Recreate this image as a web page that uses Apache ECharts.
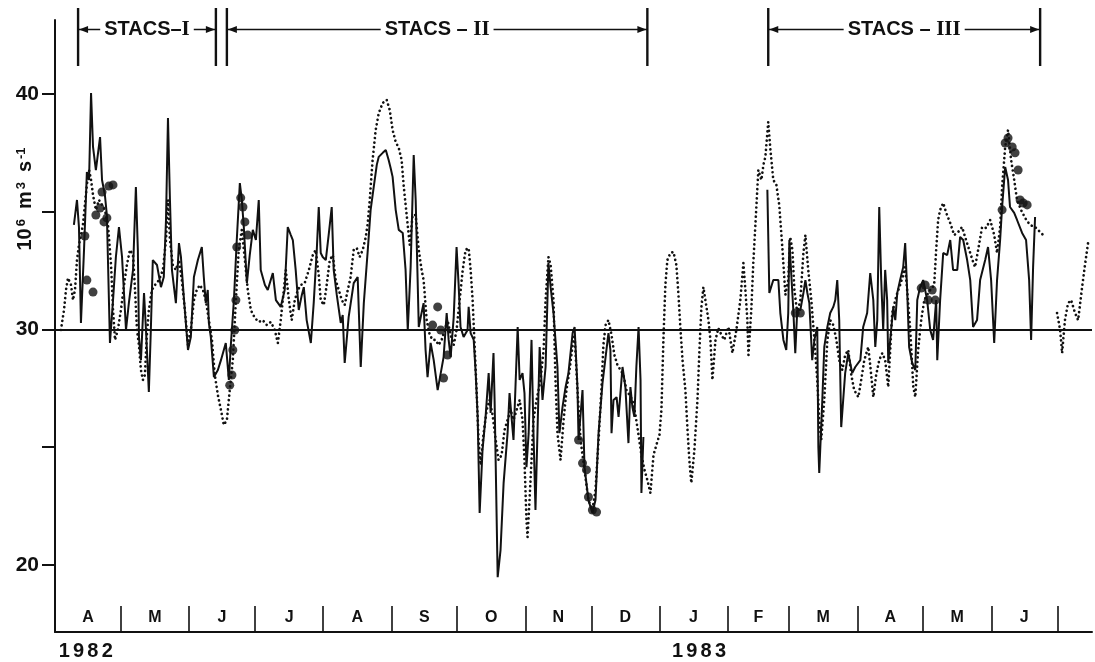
<!DOCTYPE html>
<html><head><meta charset="utf-8">
<script src="https://cdn.jsdelivr.net/npm/echarts@6/dist/echarts.min.js"></script>
<style>html,body{margin:0;padding:0;background:#fff}#c{width:1095px;height:662px}</style>
</head><body><div id="c"></div>
<script>
// x: days since 1 April 1982 ; y: transport in 10^6 m^3 s^-1
const monthStarts = [0,30,61,91,122,153,183,214,244,275,306,334,365,395,426,456];
const monthLetters = ['A','M','J','J','A','S','O','N','D','J','F','M','A','M','J'];
const yearLabels = ['1982','1983'];
const yearCentres = [14, 293];
const yTicks = [20,25,30,35,40];
const yLabels = [20,30,40];
const referenceLevel = 30;
const stacsPrefix = ['STACS–','STACS – ','STACS – '];
const stacsNumeral = ['I','II','III'];
const stacsStart = [10.5, 78.2, 324.5];
const stacsEnd = [73.2, 269.5, 448.2];

const solid1982 = [[8.6,34.43],[10.0,35.49],[10.9,34.34],[11.8,30.27],[13.2,33.36],[14.5,36.68],[15.5,36.34],[16.4,40.03],[17.3,37.74],[18.6,36.76],[20.5,38.16],[21.4,36.34],[22.7,35.70],[23.6,34.85],[25.0,29.42],[26.4,31.24],[27.7,33.07],[29.1,34.34],[30.5,33.07],[32.3,29.97],[33.6,31.11],[35.5,32.52],[36.8,36.04],[37.7,33.36],[38.2,29.67],[39.1,28.69],[40.5,31.54],[41.4,29.97],[42.7,27.34],[43.6,29.97],[44.5,32.94],[46.4,32.73],[48.2,31.79],[49.5,32.22],[50.5,34.64],[51.4,38.97],[52.3,35.49],[53.2,32.52],[55.0,31.11],[56.4,33.66],[57.3,33.07],[58.6,31.37],[60.5,29.12],[61.8,29.67],[63.2,32.22],[65.0,32.94],[66.8,33.49],[67.7,32.22],[68.6,31.11],[69.5,31.67],[70.0,30.27],[70.9,29.67],[72.3,27.97],[74.1,28.27],[75.5,28.69],[77.7,29.42],[79.1,27.85],[80.0,29.33],[81.4,31.24],[82.7,33.79],[84.1,36.21],[85.0,35.49],[85.9,34.34],[87.3,31.96],[88.6,33.15],[90.0,34.22],[91.4,33.79],[92.7,35.49],[93.6,32.52],[95.5,31.88],[96.8,31.67],[99.1,32.39],[100.5,31.24],[102.7,30.95],[104.5,31.67],[105.9,34.34],[107.3,34.00],[108.2,33.79],[109.5,32.52],[110.9,30.82],[112.3,31.46],[113.2,31.79],[114.5,30.39],[116.4,29.42],[117.7,31.11],[119.1,33.36],[120.0,35.19],[120.9,33.24],[121.8,33.07],[123.2,32.94],[124.5,34.00],[125.9,35.19],[126.8,32.52],[128.2,31.46],[130.0,30.27],[130.9,30.61],[131.8,28.57],[133.6,30.52],[135.9,31.96],[137.7,32.22],[139.1,28.40],[140.5,31.11],[142.3,33.36],[143.6,35.07],[145.0,36.04],[146.4,36.98],[147.3,37.32],[149.1,37.49],[150.5,37.61],[151.8,37.19],[152.7,36.85],[153.6,36.47],[155.0,35.07],[156.4,34.22],[158.2,34.09],[159.5,32.52],[160.5,29.97],[161.8,32.64],[163.2,37.40],[164.1,35.49],[165.5,30.10],[166.4,30.52],[167.7,31.11],[168.6,29.12],[169.5,27.97],[170.9,29.42],[172.3,28.69],[174.1,27.42],[175.5,28.14],[176.8,28.82],[178.2,30.69],[179.1,29.55],[180.0,28.82],[181.4,30.52],[182.7,33.49],[183.6,31.96],[184.5,30.10],[185.9,29.67],[187.7,29.97],[188.2,30.95],[189.1,29.84],[190.5,29.55],[191.4,28.14],[192.3,26.28],[193.2,22.20],[194.5,24.87],[195.9,26.28],[197.3,28.14],[198.2,26.45],[199.5,28.99],[200.0,27.00],[201.4,19.48],[202.7,20.63],[204.1,23.47],[205.9,25.59],[206.8,27.29],[207.7,26.28],[208.6,25.30],[209.5,27.55],[210.5,30.10],[211.4,27.85],[212.7,28.14],[213.6,27.29],[214.5,24.15],[215.5,25.59],[216.8,29.55],[217.7,25.59],[218.6,22.33],[219.5,25.59],[220.5,29.25],[221.8,27.00],[223.2,28.40],[224.5,32.81],[225.5,31.79],[226.8,30.69],[228.6,28.40],[229.5,25.59],[230.9,26.70],[232.3,27.55],[233.6,28.14],[235.5,29.84],[236.4,30.10],[237.7,27.55],[238.2,25.30],[240.0,27.42],[240.9,24.15],[242.7,22.75],[244.5,22.20],[245.9,22.75],[247.3,25.59],[249.1,27.72],[250.5,28.82],[251.8,29.84],[252.7,29.12],[253.2,25.59],[254.1,27.00],[255.5,27.12],[256.4,26.28],[258.2,28.40],[259.5,27.55],[260.9,25.17],[261.8,27.55],[262.7,26.70],[263.6,26.28],[264.5,28.40],[265.5,30.10],[266.4,27.85],[266.8,23.05],[267.7,25.43]];

const solid1983 = [[324.1,35.92],[325.0,31.54],[326.8,32.09],[329.1,32.09],[330.0,30.69],[331.4,29.55],[332.7,29.12],[333.6,30.69],[334.1,33.79],[335.0,33.79],[335.9,30.82],[336.8,28.99],[337.7,30.82],[339.1,30.82],[340.5,31.54],[341.4,32.09],[342.3,31.54],[343.2,31.11],[344.5,28.69],[345.5,29.55],[346.8,30.10],[347.3,25.00],[347.7,23.90],[349.1,27.00],[350.0,29.25],[351.4,30.10],[352.7,30.69],[354.1,30.95],[355.0,31.24],[355.9,32.09],[356.8,30.39],[357.7,25.85],[358.6,27.00],[359.5,28.14],[360.9,28.99],[362.7,28.14],[364.1,28.40],[366.4,28.69],[367.7,30.10],[369.5,30.69],[370.9,32.39],[372.3,31.24],[373.2,29.25],[374.1,30.39],[375.0,35.19],[375.9,32.09],[376.8,29.97],[377.7,32.52],[378.6,31.24],[379.1,28.57],[380.0,29.55],[381.4,30.95],[382.3,30.39],[383.2,31.54],[384.5,32.09],[385.9,32.64],[386.8,33.66],[387.7,31.67],[388.6,29.25],[390.0,28.57],[391.4,28.27],[392.3,31.24],[393.6,31.79],[395.0,32.09],[396.8,31.24],[398.2,29.97],[399.5,29.55],[400.9,31.24],[401.4,28.69],[402.7,31.24],[404.1,33.24],[405.9,33.15],[407.3,33.79],[408.6,32.52],[410.5,32.52],[411.8,33.92],[413.2,33.79],[415.0,32.94],[416.4,32.09],[417.7,30.10],[419.5,30.39],[420.9,32.09],[423.2,32.94],[424.5,33.49],[425.9,32.09],[427.3,29.42],[428.6,32.09],[430.0,33.79],[430.9,35.19],[432.3,36.89],[433.6,36.34],[434.5,35.19],[436.4,34.94],[437.7,34.64],[440.0,34.09],[441.8,33.79],[443.2,32.09],[444.1,29.55],[445.0,32.64],[445.9,34.77]];

const dottedMain = [[2.7,29.97],[4.1,30.82],[5.0,31.67],[5.9,32.18],[7.3,31.88],[8.2,31.24],[9.1,31.67],[10.0,32.94],[10.9,33.58],[11.8,34.00],[12.7,34.43],[13.6,35.28],[14.5,36.13],[15.5,36.76],[16.4,36.34],[17.3,35.70],[18.6,35.07],[20.0,35.49],[21.4,35.28],[22.7,35.07],[24.1,34.43],[25.5,32.73],[26.4,30.82],[27.3,29.55],[28.6,29.97],[30.0,30.82],[31.4,31.88],[32.7,32.73],[34.1,33.37],[35.5,33.15],[36.4,31.67],[37.3,29.97],[38.2,29.33],[39.1,28.27],[40.0,27.85],[40.9,28.06],[41.8,29.76],[42.7,30.82],[44.1,31.67],[45.5,31.88],[47.3,32.09],[49.1,32.52],[50.5,33.79],[51.4,35.49],[52.3,33.79],[53.6,32.73],[55.0,32.52],[56.4,32.94],[57.7,32.09],[59.1,30.82],[60.5,29.33],[61.8,29.97],[63.2,31.24],[64.5,31.67],[65.9,31.88],[67.3,31.67],[68.6,31.24],[70.0,30.39],[71.4,29.55],[72.7,28.06],[74.1,27.21],[75.5,26.57],[76.8,25.94],[78.2,26.15],[79.5,27.42],[80.9,28.69],[82.3,31.24],[83.6,33.37],[85.0,34.22],[86.4,32.94],[87.7,31.67],[89.1,30.82],[90.9,30.48],[92.7,30.31],[94.5,30.39],[96.4,30.18],[98.2,30.31],[100.0,29.97],[101.4,29.42],[102.7,30.39],[104.1,31.67],[105.0,32.52],[106.4,31.24],[107.7,30.39],[109.1,31.24],[110.5,31.67],[111.8,31.88],[113.6,31.96],[115.5,32.52],[117.3,33.15],[118.6,33.37],[120.0,32.30],[120.9,31.24],[122.3,31.03],[123.6,31.88],[125.0,32.94],[126.4,33.15],[127.7,32.09],[129.1,31.67],[130.5,31.24],[131.8,31.03],[133.2,31.67],[134.5,32.22],[135.9,33.37],[137.3,33.45],[138.6,33.07],[140.0,33.37],[141.4,33.92],[142.3,34.51],[143.2,35.49],[144.5,37.19],[145.9,38.46],[147.3,39.18],[149.1,39.61],[150.9,39.74],[152.3,39.31],[153.6,38.46],[155.0,37.95],[156.4,37.70],[157.7,37.19],[158.6,36.13],[160.0,34.85],[161.4,33.58],[162.7,34.85],[164.1,34.85],[165.5,33.37],[166.8,32.52],[167.7,32.09],[169.1,30.39],[170.5,29.76],[171.8,29.55],[173.2,29.55],[174.5,29.33],[175.9,29.55],[177.3,29.97],[178.6,30.39],[180.0,29.76],[181.4,29.33],[182.7,29.97],[184.1,31.24],[185.5,32.52],[186.8,33.37],[188.2,33.45],[189.1,32.52],[190.0,31.24],[190.9,29.33],[191.8,27.42],[192.7,25.30],[193.6,24.24],[195.0,25.59],[196.4,26.57],[197.7,27.00],[199.1,26.36],[200.5,25.30],[201.8,24.45],[203.2,24.66],[204.5,25.72],[205.9,26.15],[207.3,26.57],[208.6,26.15],[210.0,26.57],[211.4,27.00],[212.7,26.15],[213.6,24.45],[214.5,21.90],[215.0,21.18],[215.9,22.75],[216.8,24.45],[217.7,26.15],[219.1,27.00],[220.9,27.85],[222.3,29.12],[223.2,31.24],[224.5,33.07],[225.5,32.73],[226.8,31.24],[227.7,27.85],[228.6,25.59],[230.0,24.45],[231.4,26.15],[232.7,27.42],[234.1,28.27],[235.5,29.33],[236.4,29.76],[237.7,27.42],[239.1,25.30],[240.9,24.03],[242.7,22.75],[244.5,22.33],[245.9,23.18],[247.3,25.30],[248.6,27.42],[249.5,29.33],[250.5,30.18],[251.8,30.39],[253.2,29.76],[254.5,28.91],[255.9,28.48],[257.3,28.27],[258.6,28.06],[260.0,27.42],[261.4,27.21],[262.7,27.00],[264.1,26.36],[265.5,25.51],[266.8,24.66],[268.2,24.03],[269.5,23.60],[270.9,23.05],[272.3,24.66],[273.6,25.09],[275.0,25.51],[275.9,26.57],[276.8,29.55],[277.7,31.88],[278.6,32.94],[280.0,33.24],[281.4,33.28],[282.7,32.73],[283.6,31.54],[284.5,30.10],[285.5,28.69],[286.8,27.42],[287.7,25.85],[288.6,24.45],[289.5,23.47],[290.9,24.87],[292.3,27.00],[293.2,29.12],[294.1,30.95],[295.0,31.79],[295.9,31.24],[297.3,30.39],[298.2,29.55],[299.1,27.85],[300.5,29.55],[301.8,30.05],[303.2,29.76],[304.5,29.55],[306.4,30.10],[308.2,28.99],[310.0,29.97],[311.8,31.24],[313.2,32.81],[314.1,31.67],[315.0,30.39],[315.5,28.91],[316.8,30.82],[317.7,32.81],[318.6,34.34],[320.0,36.76],[321.4,36.34],[322.3,36.98],[323.2,37.32],[324.5,38.80],[325.5,37.61],[326.8,36.34],[328.2,36.13],[329.5,35.28],[330.9,33.49],[332.3,31.46],[333.6,32.09],[334.5,33.92],[335.5,33.37],[336.4,31.67],[337.7,30.69],[339.1,31.24],[340.5,33.24],[341.4,34.00],[342.7,32.52],[344.1,31.24],[345.5,29.55],[346.8,27.85],[347.7,26.15],[348.6,25.30],[350.0,27.00],[351.4,29.55],[352.7,30.39],[354.1,30.18],[355.5,29.55],[356.8,28.69],[358.2,28.27],[359.5,28.91],[360.9,29.12],[362.3,28.06],[363.6,27.42],[365.5,27.12],[366.8,27.85],[368.2,28.69],[370.0,29.25],[370.9,28.48],[372.3,27.12],[373.6,28.06],[375.0,28.69],[376.4,28.99],[377.7,28.69],[379.1,27.55],[380.0,29.12],[380.9,30.69],[382.3,31.24],[383.2,31.54],[384.5,31.88],[385.9,32.30],[386.8,32.64],[387.7,31.67],[389.1,29.97],[390.5,27.55],[391.4,27.12],[392.7,29.12],[394.1,30.39],[395.5,31.24],[396.8,31.46],[398.2,31.67],[400.0,31.88],[400.9,33.37],[401.8,34.64],[402.7,35.07],[404.1,35.36],[405.5,34.94],[407.3,34.51],[409.1,34.00],[410.9,34.13],[412.7,34.34],[414.5,33.79],[416.4,33.24],[417.7,32.86],[418.6,32.64],[420.0,33.37],[421.8,34.34],[423.6,34.30],[425.5,34.64],[427.3,34.00],[428.6,33.24],[430.0,34.34],[430.9,36.04],[432.3,37.74],[433.6,38.46],[435.0,37.19],[436.4,36.34],[437.7,35.49],[439.5,35.07],[441.4,34.72],[443.6,34.43],[445.9,34.34],[448.2,34.13],[450.5,33.92]];

const dottedTail = [[455.9,30.69],[457.3,29.97],[458.2,28.99],[459.5,30.39],[460.9,31.11],[462.3,31.24],[464.1,30.69],[465.5,30.39],[467.3,31.79],[468.6,32.73],[470.0,33.66]];

const cruisePoints = [[13.6,33.96],[14.5,32.09],[17.3,31.58],[18.6,34.85],[20.5,35.15],[21.4,35.83],[22.3,34.56],[23.6,34.73],[24.5,36.08],[26.4,36.13],[79.5,27.63],[80.5,28.06],[80.9,29.12],[81.8,29.97],[82.3,31.24],[82.7,33.49],[84.5,35.58],[85.5,35.19],[86.4,34.56],[87.7,34.00],[171.8,30.18],[174.1,30.95],[175.5,29.97],[176.8,27.93],[178.6,28.91],[238.2,25.30],[240.0,24.32],[241.8,24.03],[242.7,22.88],[244.5,22.33],[246.4,22.24],[336.8,30.69],[339.1,30.69],[394.1,31.75],[395.9,31.88],[397.3,31.24],[399.1,31.67],[400.5,31.24],[430.9,35.07],[432.3,37.91],[433.6,38.12],[435.5,37.74],[436.8,37.49],[438.2,36.76],[439.1,35.49],[440.5,35.36],[442.3,35.28]];

const monthMids = monthStarts.slice(0, -1).map((s, i) => (s + monthStarts[i + 1]) / 2);
const INK = '#111';
const FONT = '"Liberation Sans", Arial, sans-serif';
const X_MAX = 471.8;

const chart = echarts.init(document.getElementById('c'), null, {renderer: 'canvas'});
const lineBase = {type: 'line', showSymbol: false, symbol: 'none', animation: false, xAxisIndex: 0, yAxisIndex: 0};
const dotStyle = {color: INK, width: 2.7, type: [0.01, 4.6], cap: 'round'};

chart.setOption({
  animation: false,
  backgroundColor: '#fff',
  grid: [
    {left: 55, right: 3, top: 20, bottom: 30},
    {left: 55, right: 3, top: 8, height: 58}
  ],
  xAxis: [
    {gridIndex: 0, type: 'value', min: 0, max: X_MAX,
     axisLine: {show: true, onZero: false, lineStyle: {color: INK, width: 2}},
     axisTick: {show: true, inside: true, length: 26, customValues: monthStarts.slice(1), lineStyle: {color: INK, width: 1.6}},
     axisLabel: {show: true, inside: true, margin: 6, customValues: monthMids,
       formatter: v => { const i = monthMids.findIndex(m => Math.abs(m - v) < 0.01); return i >= 0 ? monthLetters[i] : ''; },
       color: INK, fontFamily: FONT, fontWeight: 'bold', fontSize: 16},
     splitLine: {show: false}},
    {gridIndex: 0, type: 'value', min: 0, max: X_MAX, position: 'bottom',
     axisLine: {show: false}, axisTick: {show: false}, splitLine: {show: false},
     axisLabel: {show: true, margin: 9, customValues: yearCentres,
       formatter: v => { const i = yearCentres.indexOf(v); return i >= 0 ? yearLabels[i].split('').map(c => '{d|' + c + '}').join('') : ''; },
       rich: {d: {color: INK, fontFamily: FONT, fontWeight: 'bold', fontSize: 20, padding: [0, 1.6]}}}},
    {gridIndex: 1, type: 'value', min: 0, max: X_MAX, show: false}
  ],
  yAxis: [
    {gridIndex: 0, type: 'value', min: 17.15, max: 43.13,
     axisLine: {show: true, onZero: false, lineStyle: {color: INK, width: 2}},
     axisTick: {show: true, length: 13, customValues: yTicks, lineStyle: {color: INK, width: 2}},
     axisLabel: {show: true, margin: 16, customValues: yLabels, color: INK, fontFamily: FONT, fontWeight: 'bold', fontSize: 21},
     splitLine: {show: false}},
    {gridIndex: 1, type: 'value', min: 0, max: 1, show: false}
  ],
  graphic: [{
    type: 'text', x: 25, y: 199, rotation: Math.PI / 2,
    style: {
      text: '{b|10}{s|6}{g| }{b|m}{s|3}{g| }{b|s}{s|-1}',
      rich: {
        b: {fontSize: 20, fontWeight: 'bold', fontFamily: FONT, fill: INK, padding: [0, 1]},
        s: {fontSize: 13, fontWeight: 'bold', fontFamily: FONT, fill: INK, verticalAlign: 'top', padding: [0, 1]},
        g: {fontSize: 20, width: 8}
      },
      align: 'center', verticalAlign: 'middle'
    }
  }],
  series: [
    Object.assign({}, lineBase, {name: 'model', data: dottedMain, lineStyle: dotStyle}),
    Object.assign({}, lineBase, {name: 'model tail', data: dottedTail, lineStyle: dotStyle}),
    Object.assign({}, lineBase, {name: 'observed 1982', data: solid1982,
      lineStyle: {color: INK, width: 2},
      markLine: {silent: true, symbol: 'none', label: {show: false},
        lineStyle: {color: INK, width: 2, type: 'solid'}, data: [{yAxis: referenceLevel}]}}),
    Object.assign({}, lineBase, {name: 'observed 1983', data: solid1983,
      lineStyle: {color: INK, width: 2}}),
    {type: 'scatter', name: 'cruise', xAxisIndex: 0, yAxisIndex: 0, data: cruisePoints,
      symbol: 'circle', symbolSize: 9, itemStyle: {color: INK}, animation: false},
    {type: 'custom', name: 'STACS', xAxisIndex: 2, yAxisIndex: 1, animation: false, clip: false,
      data: stacsStart.map((s, i) => [s, stacsEnd[i], i]),
      encode: {x: [0, 1]},
      renderItem: (params, api) => {
        const a = api.coord([api.value(0), 1]);
        const b = api.coord([api.value(1), 0]);
        const yl = api.coord([0, 0.63])[1];
        const i = api.value(2);
        const x0 = a[0], x1 = b[0], yT = a[1], yB = b[1];
        const st = {stroke: INK, lineWidth: 2.4};
        return {type: 'group', children: [
          {type: 'line', shape: {x1: x0, y1: yT, x2: x0, y2: yB}, style: st},
          {type: 'line', shape: {x1: x1, y1: yT, x2: x1, y2: yB}, style: st},
          {type: 'line', shape: {x1: x0, y1: yl, x2: x1, y2: yl}, style: {stroke: INK, lineWidth: 1.5}},
          {type: 'polygon', shape: {points: [[x0 + 1, yl], [x0 + 10, yl - 3.5], [x0 + 10, yl + 3.5]]}, style: {fill: INK}},
          {type: 'polygon', shape: {points: [[x1 - 1, yl], [x1 - 10, yl - 3.5], [x1 - 10, yl + 3.5]]}, style: {fill: INK}},
          {type: 'text', x: (x0 + x1) / 2, y: yl, style: {
            text: '{a|' + stacsPrefix[i] + '}{n|' + stacsNumeral[i] + '}',
            rich: {
              a: {fontSize: 20, fontFamily: FONT, fontWeight: 'bold', fill: INK},
              n: {fontSize: 21, fontFamily: '"Liberation Serif", "DejaVu Serif", serif', fontWeight: 'bold', fill: INK}
            },
            align: 'center', verticalAlign: 'middle', backgroundColor: '#fff', padding: [0, 4]}}
        ]};
      }}
  ]
});
</script>
</body></html>
